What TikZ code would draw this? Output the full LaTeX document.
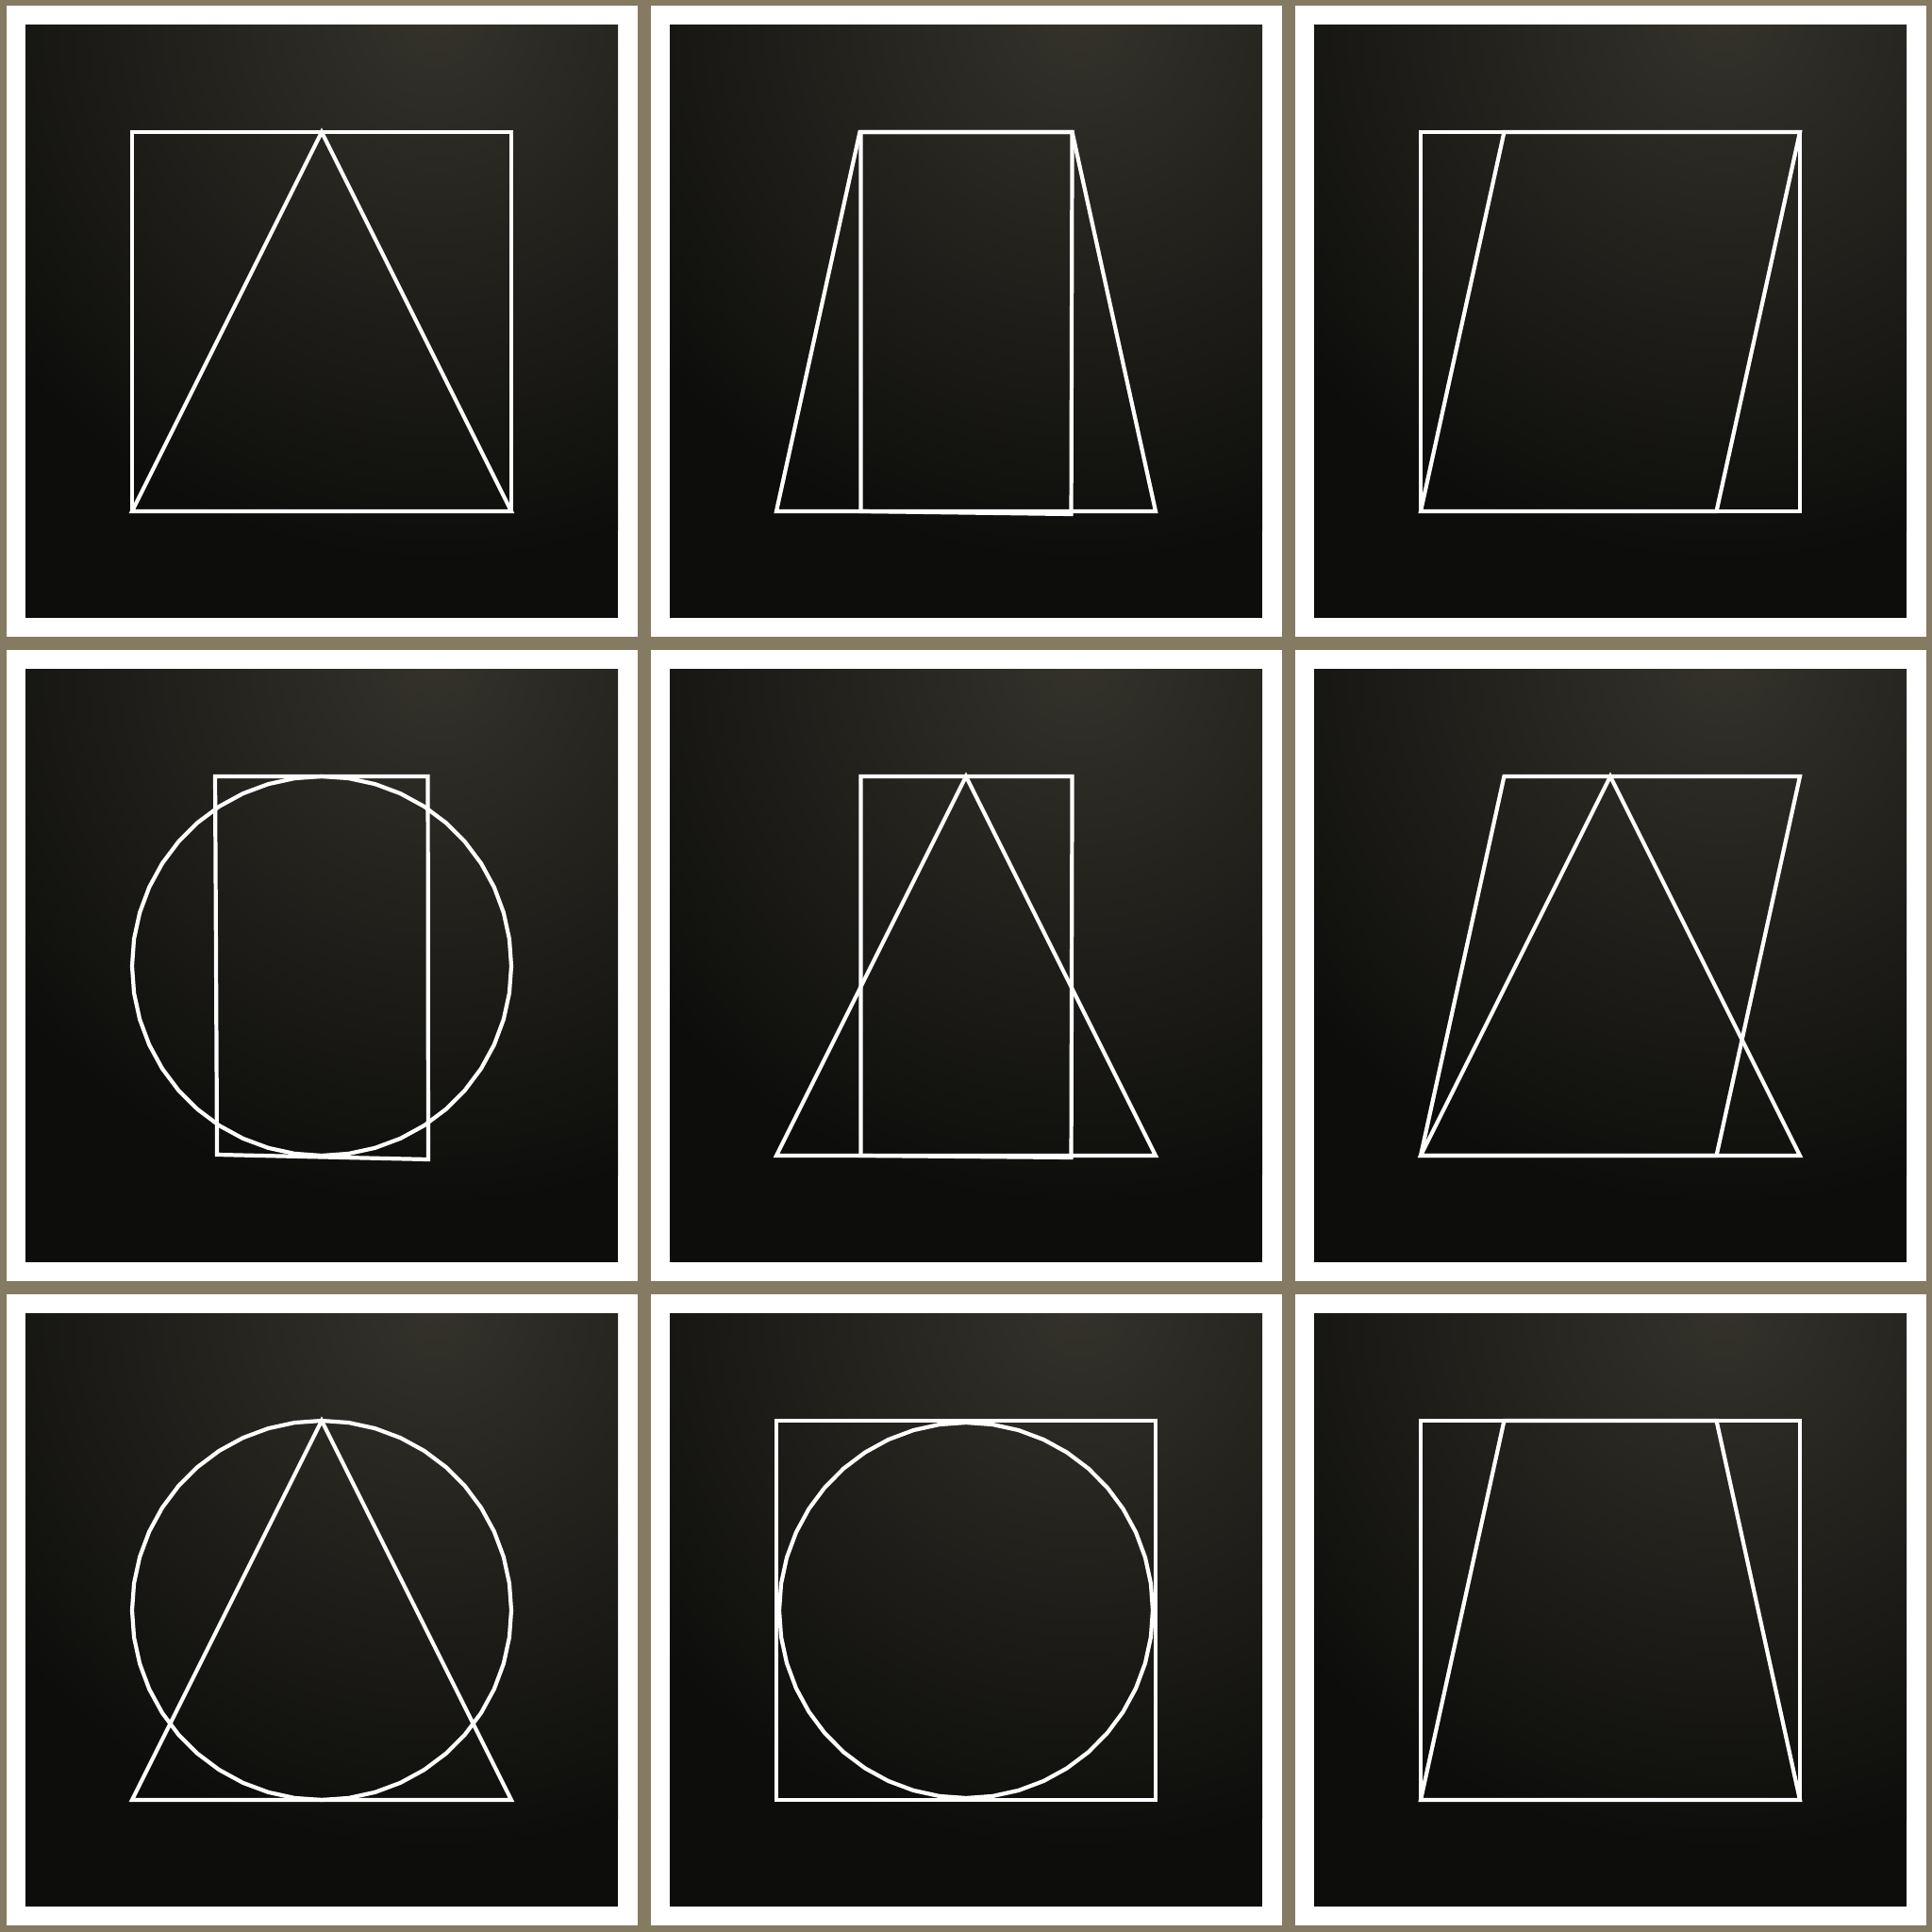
\documentclass[tikz,border=0pt]{standalone}
\usepackage{xcolor}
\definecolor{marco}{RGB}{133,122,98}
\definecolor{fondo}{RGB}{13,13,11}
\definecolor{brillo}{RGB}{52,50,43}

\begin{document}
\begin{tikzpicture}[forma/.style={white, line width=1.2pt},
    celda/.style={shift={#1}, scale=2.01}]
    % Fondo
    \fill[marco] (0,0) rectangle (20.48,20.48);
    \useasboundingbox (0,0) rectangle (20.48,20.48);

    % Paneles: marco blanco y fondo oscuro con brillo arriba a la derecha
    \foreach \cx in {3.41,10.24,17.07}{
      \foreach \cy in {3.41,10.24,17.07}{
        \fill[white] (\cx-3.345,\cy-3.345) rectangle (\cx+3.345,\cy+3.345);
        \begin{scope}
          \clip (\cx-3.14,\cy-3.14) rectangle (\cx+3.14,\cy+3.14);
          \fill[fondo] (\cx-3.14,\cy-3.14) rectangle (\cx+3.14,\cy+3.14);
          \shade[inner color=brillo, outer color=fondo] (\cx+1.2,\cy+3.25) circle (5.8);
        \end{scope}
      }
    }

    % Fila 1
    \begin{scope}[celda={(3.41,17.07)}]
      \draw[forma] (-1,-1) -- (-1,1) -- (1,1) -- (1,-1) -- cycle;
      \draw[forma] (-1,-1) -- (0,1) -- (1,-1) -- cycle;
    \end{scope}
    \begin{scope}[celda={(10.24,17.07)}]
      \draw[forma] (-1,-1) -- (-0.56,1) -- (0.56,1) -- (1,-1) -- cycle;
      \draw[forma] (-0.555,1) -- (0.56,1) -- (0.555,-1.015) -- (-0.555,-1) -- cycle;
    \end{scope}
    \begin{scope}[celda={(17.07,17.07)}]
      \draw[forma] (-1,-1) -- (-1,1) -- (1,1) -- (1,-1) -- cycle;
      \draw[forma] (-1,-1) -- (-0.56,1) -- (1,1) -- (0.56,-1) -- cycle;
    \end{scope}

    % Fila 2
    \begin{scope}[celda={(3.41,10.24)}]
      \draw[forma] plot[domain=0:360, samples=45] ({cos(\x)},{sin(\x)}) -- cycle;
      \draw[forma] (-0.562,1) -- (0.56,1) -- (0.562,-1.02) -- (-0.552,-0.995) -- cycle;
    \end{scope}
    \begin{scope}[celda={(10.24,10.24)}]
      \draw[forma] (-0.555,1) -- (0.56,1) -- (0.555,-1.01) -- (-0.555,-1) -- cycle;
      \draw[forma] (-1,-1) -- (0,1) -- (1,-1) -- cycle;
    \end{scope}
    \begin{scope}[celda={(17.07,10.24)}]
      \draw[forma] (-1,-1) -- (-0.56,1) -- (1,1) -- (0.56,-1) -- cycle;
      \draw[forma] (-1,-1) -- (0,1) -- (1,-1) -- cycle;
    \end{scope}

    % Fila 3
    \begin{scope}[celda={(3.41,3.41)}]
      \draw[forma] plot[domain=0:360, samples=45] ({cos(\x)},{sin(\x)}) -- cycle;
      \draw[forma] (-1,-1) -- (0,1) -- (1,-1) -- cycle;
    \end{scope}
    \begin{scope}[celda={(10.24,3.41)}]
      \draw[forma] (-1,-1) -- (-1,1) -- (1,1) -- (1,-1) -- cycle;
      \draw[forma] plot[domain=0:360, samples=45] ({0.985*cos(\x)},{0.99*sin(\x)}) -- cycle;
    \end{scope}
    \begin{scope}[celda={(17.07,3.41)}]
      \draw[forma] (-1,-1) -- (-1,1) -- (1,1) -- (1,-1) -- cycle;
      \draw[forma] (-1,-1) -- (-0.56,1) -- (0.56,1) -- (1,-1) -- cycle;
    \end{scope}
\end{tikzpicture}
\end{document}
